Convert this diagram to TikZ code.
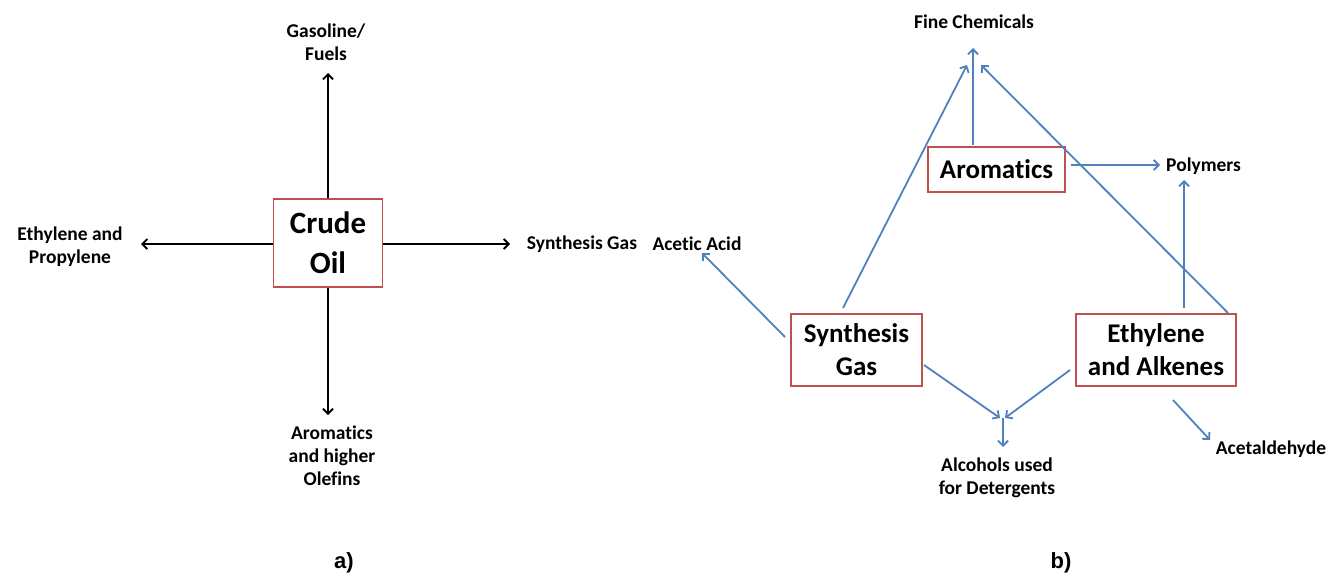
\documentclass[tikz,border=0pt]{standalone}
\usepackage{fontspec}
\setmainfont{Carlito}[Ligatures={NoCommon}]
\newfontfamily\arialf{Liberation Sans}
\usetikzlibrary{arrows.meta}
\definecolor{boxred}{RGB}{192,80,77}
\definecolor{arrblue}{RGB}{79,129,189}
\begin{document}
\begin{tikzpicture}[x=1pt,y=-1pt,
 lbl/.style={font=\bfseries\fontsize{19.5}{23}\selectfont, align=center, inner sep=0pt},
 box/.style={draw=boxred, line width=1.5pt, fill=white, inner sep=0pt, align=center, font=\bfseries\fontsize{27}{33}\selectfont},
 karrow/.style={draw=black, line width=1.8pt, -{Straight Barb[length=5pt,width=10pt]}},
 barrow/.style={draw=arrblue, line width=1.8pt, -{Straight Barb[length=5pt,width=10pt]}},
 caption/.style={font=\arialf\bfseries\fontsize{22}{26}\selectfont, inner sep=0pt}]
\useasboundingbox (0,0) rectangle (1333,579);
% ---------- part a ----------
\node[box, minimum width=109pt, minimum height=88pt, font=\bfseries\fontsize{31}{40}\selectfont] (crude) at (328,243) {Crude\\Oil};
\node[lbl] (gas) at (326,42) {Gasoline/\\Fuels};
\node[lbl] (ethprop) at (70,247) {Ethylene and\\Propylene};
\node[lbl] (syngasl) at (582,244) {Synthesis Gas};
\node[lbl] (arohi) at (332,456) {Aromatics\\and higher\\Olefins};
\coordinate (cu) at (328,73);
\coordinate (cl) at (141,244);
\coordinate (cr) at (510,244);
\coordinate (cd) at (328,415);
\draw[karrow] (crude.north) -- (cu);
\draw[karrow] (crude.west |- cl) -- (cl);
\draw[karrow] (crude.east |- cr) -- (cr);
\draw[karrow] (crude.south) -- (cd);
\node[caption] (capa) at (344,563) {a)};
% ---------- part b ----------
\node[lbl] (acetic) at (697,244) {Acetic Acid};
\node[lbl] (fine) at (974,22) {Fine Chemicals};
\node[lbl, anchor=west] (poly) at (1166,166) {Polymers};
\node[lbl] (alco) at (997,478) {Alcohols used\\for Detergents};
\node[lbl] (acet) at (1271,449) {Acetaldehyde};
\node[box, minimum width=137pt, minimum height=45pt] (arom) at (996.5,169.5) {Aromatics};
\node[box, minimum width=131pt, minimum height=72pt] (syn) at (856.5,350) {Synthesis\\Gas};
\node[box, minimum width=160pt, minimum height=72pt] (eth) at (1156,350) {Ethylene\\and Alkenes};
\coordinate (s0) at (785,337);
\coordinate (sA) at (702,253);
\coordinate (s1) at (843,308);
\coordinate (fL) at (967,65);
\coordinate (a1) at (973,145);
\coordinate (fM) at (973,48);
\coordinate (e1) at (1228,313);
\coordinate (fR) at (981,65);
\coordinate (a2) at (1071,165);
\coordinate (pL) at (1160,165);
\coordinate (e2) at (1184,308);
\coordinate (pB) at (1184,180);
\coordinate (s2) at (924,365);
\coordinate (jL) at (1000,418);
\coordinate (e3) at (1070,370);
\coordinate (jR) at (1005,418);
\coordinate (j) at (1003,418);
\coordinate (aT) at (1003,447);
\coordinate (e4) at (1173,400);
\coordinate (acT) at (1210,440);
\draw[barrow] (s0) -- (sA);
\draw[barrow] (s1) -- (fL);
\draw[barrow] (a1) -- (fM);
\draw[barrow] (e1) -- (fR);
\draw[barrow] (a2) -- (pL);
\draw[barrow] (e2) -- (pB);
\draw[barrow] (s2) -- (jL);
\draw[barrow] (e3) -- (jR);
\draw[barrow] (j) -- (aT);
\draw[barrow] (e4) -- (acT);
\node[caption] (capb) at (1061,563) {b)};
\end{tikzpicture}
\end{document}
